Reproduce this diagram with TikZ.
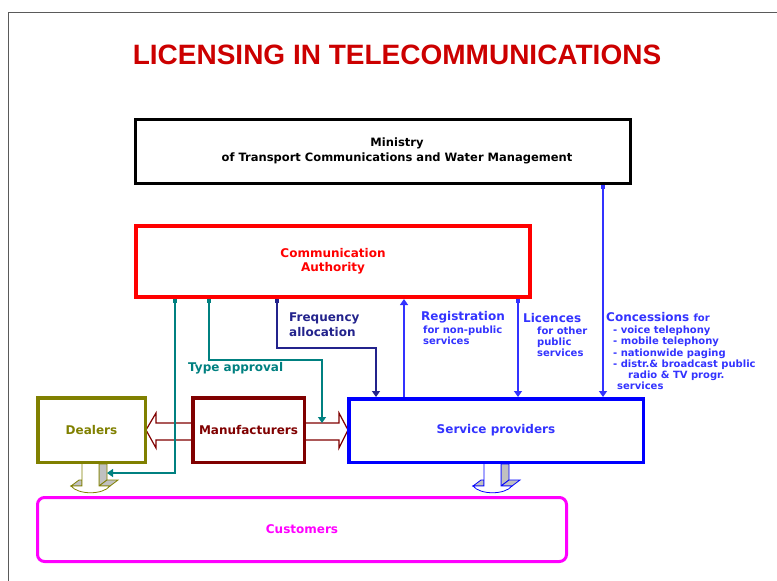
\documentclass[tikz,border=0pt]{standalone}
\usepackage{fontspec}
\setmainfont{DejaVu Sans}
\newfontfamily\titlefont{Liberation Sans}
\usetikzlibrary{arrows.meta}

\definecolor{titlered}{RGB}{204,0,0}
\definecolor{authred}{RGB}{255,0,0}
\definecolor{manred}{RGB}{128,0,0}
\definecolor{dealolive}{RGB}{128,128,0}
\definecolor{custmag}{RGB}{255,0,255}
\definecolor{spblue}{RGB}{0,0,255}
\definecolor{txtblue}{RGB}{51,51,255}
\definecolor{navy}{RGB}{35,35,140}
\definecolor{tealc}{RGB}{0,128,128}
\definecolor{shade}{RGB}{192,192,192}
\definecolor{framegray}{RGB}{90,90,90}

\newcommand\boxfont{\fontsize{12}{14}\selectfont\bfseries}
\newcommand\headfont{\fontsize{12}{15}\selectfont\bfseries}
\newcommand\subfont{\fontsize{10}{11.2}\selectfont\bfseries}

\tikzset{
  unit/.style={draw, fill=white, line width=3.5pt, font=\boxfont, inner sep=0pt, align=center},
  wire/.style={line width=1.3pt, -{Triangle[length=6pt,width=8pt]}},
  tapwire/.style={wire, {Square[length=3.5pt,width=3.5pt]}-{Triangle[length=6pt,width=8pt]}},
  note/.style={anchor=west, inner sep=0pt, align=left},
  facet/.style={fill=shade, line width=0.8pt},
}

\begin{document}
\begin{tikzpicture}[x=1pt,y=1pt,yscale=-1]
\useasboundingbox (0,0) rectangle (777,581);

% frame
\draw[framegray, line width=1pt] (8,581) -- (8,12) -- (777,12);

% title
\node[text=titlered, font={\titlefont\fontsize{28}{32}\selectfont\bfseries}] (title) at (397,55) {LICENSING IN TELECOMMUNICATIONS};

% block arrows under the boxes
\draw[manred, line width=1.2pt, fill=white] (146,430) -- (156,413) -- (156,423) -- (339,423) -- (339,413) -- (348,430) -- (339,448) -- (339,440) -- (156,440) -- (156,448) -- cycle;
\foreach \ax/\acol in {82/dealolive, 484/spblue}{
  \begin{scope}[shift={(\ax,464)}]
    \filldraw[facet, draw=\acol] (17,0) -- (25,0) -- (25,16) -- (17,22) -- cycle;
    \filldraw[facet, draw=\acol] (17,22) -- (25,16) -- (36,16) -- (28,22) -- cycle;
    \filldraw[facet, draw=\acol] (-11,22) -- (-3,16) -- (0,16) -- (0,22) -- cycle;
    \filldraw[fill=white, draw=\acol, line width=0.8pt] (0,0) -- (0,22) -- (-11,22) .. controls (-4,31) and (21,31) .. (28,22) -- (17,22) -- (17,0);
  \end{scope}
}

% boxes
\node[unit, line width=3pt, minimum width=495pt, minimum height=64pt] (ministry) at (383,151.5) {};
\node[font={\fontsize{11.5}{15}\selectfont\bfseries}, align=center] (ministrytext) at (397,151) {Ministry\\of Transport Communications and Water Management};
\node[unit, draw=authred, text=authred, line width=4pt, minimum width=394pt, minimum height=71pt] (ca) at (333,261.5) {Communication\\Authority};
\node[unit, draw=spblue, text=txtblue, minimum width=294.5pt, minimum height=63.5pt] (sp) at (496,430.5) {Service providers};
\node[unit, draw=manred, text=manred, minimum width=111.5pt, minimum height=64.5pt] (manuf) at (248.5,430) {Manufacturers};
\node[unit, draw=dealolive, text=dealolive, minimum width=107.5pt, minimum height=64.5pt] (dealers) at (91.5,430) {Dealers};
\node[unit, draw=custmag, text=custmag, line width=3pt, rounded corners=7pt, minimum width=529pt, minimum height=64pt] (cust) at (302,529.5) {Customers};

% connector ends
\coordinate (dealtap) at (107,473);
\coordinate (typetap) at (322,423);
\coordinate (regfoot) at ([xshift=57pt]sp.north west);
\coordinate (lictop) at ([xshift=-14pt]ca.south east);
\coordinate (contop) at ([xshift=-29pt]ministry.south east);

% connectors
\draw[tapwire, tealc] ([xshift=41pt]ca.south west) |- (dealtap);
\draw[tapwire, tealc] ([xshift=75pt]ca.south west) -- ++(0,61) -| (typetap);
\draw[tapwire, navy] ([xshift=143pt]ca.south west) -- ++(0,49) -| ([xshift=29pt]sp.north west);
\draw[wire, txtblue] (regfoot) -- (regfoot |- ca.south);
\draw[tapwire, txtblue] (lictop) -- (lictop |- sp.north);
\draw[tapwire, txtblue] (contop) -- (contop |- sp.north);

% labels
\node[note, text=navy, font=\headfont] (freqlbl) at (289,324.5) {Frequency\\allocation};
\node[note, text=tealc, font=\headfont] (typelbl) at (188,368) {Type approval};
\node[note, text=txtblue, font=\headfont] (reglbl) at (421,317) {Registration};
\node[note, text=txtblue, font=\subfont] (regsub) at (423,335.5) {for non-public\\services};
\node[note, text=txtblue, font=\headfont] (liclbl) at (523,318) {Licences};
\node[note, text=txtblue, font=\subfont] (licsub) at (537,342) {for other\\public\\services};
\node[note, text=txtblue, font=\headfont] (conlbl) at (606,317) {Concessions {\subfont for}};
\node[note, text=txtblue, font=\subfont] (consub) at (613,358) {- voice telephony\\- mobile telephony\\- nationwide paging\\- distr.\& broadcast public\\\hspace*{15pt}radio \& TV progr.\\\hspace*{4pt}services};

\end{tikzpicture}
\end{document}
